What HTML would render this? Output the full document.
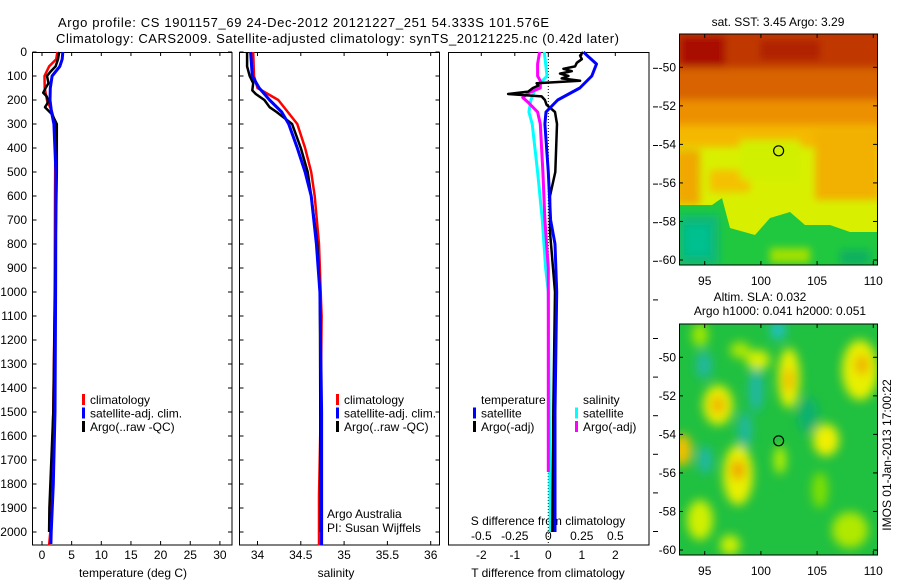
<!DOCTYPE html>
<html><head><meta charset="utf-8">
<style>
html,body{margin:0;padding:0;background:#fff;}
svg{display:block;font-family:"Liberation Sans",sans-serif;}
text{font-size:12px;fill:#000;}
</style></head>
<body>
<svg id="chart" width="900" height="580" viewBox="0 0 900 580" xmlns="http://www.w3.org/2000/svg">
<defs>
<filter id="blur4" x="-20%" y="-20%" width="140%" height="140%"><feGaussianBlur stdDeviation="4"/></filter>
<filter id="blur6" x="-30%" y="-30%" width="160%" height="160%"><feGaussianBlur stdDeviation="5"/></filter>
<clipPath id="clipTop"><rect x="679" y="34" width="198" height="231"/></clipPath>
<clipPath id="clipBot"><rect x="679" y="324" width="198" height="231"/></clipPath>
</defs>
<text x="58" y="27" textLength="491" style="font-size:13px">Argo profile: CS 1901157_69 24-Dec-2012 20121227_251 54.333S 101.576E</text>
<text x="56" y="43" textLength="563" style="font-size:13px">Climatology: CARS2009. Satellite-adjusted climatology: synTS_20121225.nc (0.42d later)</text>

<!-- SST map -->
<g>
<g clip-path="url(#clipTop)">
<rect x="679" y="34" width="198" height="231" fill="#d8f000"/>
<g filter="url(#blur4)">
<rect x="670" y="25" width="220" height="45" fill="#c03800"/>
<rect x="670" y="68" width="220" height="35" fill="#d86400"/>
<rect x="670" y="100" width="220" height="28" fill="#ec9000"/>
<rect x="670" y="125" width="220" height="22" fill="#f4b800"/>
<rect x="680" y="36" width="45" height="30" fill="#a81000"/>
<rect x="760" y="40" width="60" height="20" fill="#b02000"/>
<rect x="815" y="130" width="65" height="70" fill="#f2b000"/>
<rect x="675" y="150" width="25" height="55" fill="#f0a800"/>
<rect x="710" y="170" width="40" height="22" fill="#f5c000"/>
<rect x="740" y="140" width="60" height="40" fill="#d0f000"/>
</g>
<polygon points="679,205 712,205 722,198 730,228 755,235 770,218 790,212 805,225 830,225 850,232 877,232 877,265 679,265" fill="#20c840"/>
<g filter="url(#blur4)">
<rect x="679" y="215" width="40" height="50" fill="#10b878"/>
<rect x="685" y="225" width="25" height="30" fill="#00c090"/>
<rect x="770" y="248" width="40" height="15" fill="#a0e000"/>
<rect x="840" y="250" width="30" height="15" fill="#10b060"/>
</g>
</g>
<rect x="679.5" y="34" width="198" height="231" fill="none" stroke="#000" stroke-width="1"/>
</g>
<!-- SLA map -->
<g>
<g clip-path="url(#clipBot)">
<rect x="679" y="324" width="198" height="231" fill="#20c040"/>
<g filter="url(#blur6)">
<ellipse cx="704" cy="365" rx="8" ry="14" fill="#20b8a0"/>
<ellipse cx="778" cy="330" rx="8" ry="10" fill="#20c0c0"/>
<ellipse cx="756" cy="390" rx="7" ry="22" fill="#20b8a8"/>
<ellipse cx="745" cy="430" rx="7" ry="18" fill="#20b8a0"/>
<ellipse cx="705" cy="460" rx="7" ry="14" fill="#20b8a8"/>
<ellipse cx="808" cy="415" rx="10" ry="18" fill="#10b070"/>
<ellipse cx="718" cy="405" rx="15" ry="20" fill="#e8f000"/>
<ellipse cx="718" cy="405" rx="7" ry="9" fill="#f0b000"/>
<ellipse cx="738" cy="475" rx="15" ry="30" fill="#e8f000"/>
<ellipse cx="738" cy="470" rx="7" ry="10" fill="#f0a000"/>
<ellipse cx="789" cy="378" rx="11" ry="30" fill="#e8f000"/>
<ellipse cx="789" cy="380" rx="5" ry="12" fill="#f0b800"/>
<ellipse cx="860" cy="370" rx="18" ry="30" fill="#e8f000"/>
<ellipse cx="862" cy="365" rx="7" ry="10" fill="#f0b000"/>
<ellipse cx="826" cy="440" rx="13" ry="16" fill="#f0f000"/>
<ellipse cx="682" cy="450" rx="10" ry="16" fill="#f0c000"/>
<ellipse cx="758" cy="360" rx="12" ry="10" fill="#d8f000"/>
<ellipse cx="700" cy="520" rx="13" ry="20" fill="#d0f000"/>
<ellipse cx="780" cy="460" rx="6" ry="14" fill="#b8f000"/>
<ellipse cx="850" cy="530" rx="18" ry="18" fill="#b0e800"/>
<ellipse cx="730" cy="545" rx="10" ry="10" fill="#d0f000"/>
<ellipse cx="820" cy="490" rx="8" ry="18" fill="#80e000"/>
<ellipse cx="700" cy="335" rx="8" ry="12" fill="#a0e800"/>
<ellipse cx="740" cy="350" rx="10" ry="8" fill="#b0e800"/>
</g>
</g>
<rect x="679.5" y="324" width="198" height="231" fill="none" stroke="#000" stroke-width="1"/>
</g>
<text x="778" y="26" text-anchor="middle">sat. SST: 3.45 Argo: 3.29</text>
<text x="760" y="301" text-anchor="middle">Altim. SLA: 0.032</text>
<text x="780" y="315" text-anchor="middle">Argo h1000: 0.041 h2000: 0.051</text>
<text transform="translate(891,455) rotate(-90)" text-anchor="middle">IMOS 01-Jan-2013 17:00:22</text>
<g id="axes"></g>
<g id="marks"></g>
</svg>
<script>
// ---- data ----
const depthTick = [0,100,200,300,400,500,600,700,800,900,1000,1100,1200,1300,1400,1500,1600,1700,1800,1900,2000];
const tempTicks = [0,5,10,15,20,25,30];
const salTicks = [34,34.5,35,35.5,36];
const tdiffTicks = [-2,-1,0,1,2];
const sdiffTicks = [-0.5,-0.25,0,0.25,0.5];
const sdiffLabels = ["-0.5","-0.25","0","0.25","0.5"];

const tClimD = [0,30,60,100,150,200,250,300,400,600,1000,1200,1500,1800,2000,2055];
const tClimV = [2.6,2.4,1.2,0.42,0.45,0.85,1.7,2.2,2.25,2.2,2.15,2.05,1.9,1.6,1.4,1.2];
const tSatD = [0,30,60,100,150,200,250,300,500,1000,1500,1800,2000,2050];
const tSatV = [3.5,3.4,3.0,1.7,1.4,1.35,1.6,2.0,2.35,2.3,2.2,1.9,1.55,1.5];
const tArgoD = [0,30,60,80,100,130,150,170,185,200,215,230,260,300,500,800,1000,1500,1900,2000];
const tArgoV = [2.9,2.7,2.3,1.5,0.85,1.1,0.6,0.2,0.8,1.0,0.9,0.5,1.7,2.5,2.5,2.3,2.2,1.9,1.25,1.2];

const sClimD = [0,100,150,200,250,300,400,500,600,800,1000,1100,1500,1850,2055];
const sClimV = [33.95,33.96,34.0,34.24,34.35,34.46,34.55,34.62,34.66,34.71,34.73,34.74,34.73,34.71,34.71];
const sSatD = [0,100,150,200,250,300,400,500,600,800,1000,1500,2000,2055];
const sSatV = [33.92,33.94,34.02,34.14,34.28,34.36,34.46,34.55,34.62,34.68,34.72,34.74,34.74,34.74];
const sArgoD = [0,60,100,130,160,175,200,230,250,300,400,500,600,800,1000,2000];
const sArgoV = [33.88,33.88,33.91,33.95,33.94,33.98,34.08,34.14,34.22,34.4,34.5,34.58,34.62,34.69,34.72,34.73];

const dtSatD = [0,20,50,100,150,200,250,300,500,700,800,1000,1500,2000];
const dtSatV = [1.05,1.2,1.44,1.3,0.94,0.28,-0.07,-0.1,0.0,0.07,0.2,0.25,0.2,0.2];
const dtArgoD = [0,15,30,45,60,70,80,90,100,110,120,130,140,150,165,175,185,200,220,250,300,500,600,750,1000,1500,2000];
const dtArgoV = [1.04,0.95,1.0,0.85,0.8,0.45,0.7,0.35,0.6,0.4,0.95,-0.35,-0.3,-0.46,-0.6,-1.2,-0.2,-0.1,-0.05,0.2,0.26,0.21,0.05,0.05,0.2,0.15,0.12];
const dsSatD = [0,100,150,200,250,300,500,700,900,1000,2000];
const dsSatV = [-0.03,-0.01,-0.095,-0.13,-0.145,-0.12,-0.08,-0.045,-0.02,0.0,0.015];
const dsArgoD = [0,50,100,120,150,170,190,210,250,300,500,700,900,1750];
const dsArgoV = [-0.065,-0.08,-0.08,-0.06,-0.06,-0.145,-0.19,-0.15,-0.08,-0.06,-0.04,-0.025,0.0,0.0];

const mapLatTicks = [-50,-52,-54,-56,-58,-60];
const mapLonTicks = [95,100,105,110];
const argoLon = 101.576, argoLat = -54.333;

// ---- scales ----
const yD = d => 52 + d*0.24;
const xT = t => 42 + t*5.93;
const xS = s => 257.5 + (s-34)*86.6;
const xDT = t => 548.3 + t*33.5;
const xDS = s => 548.3 + s*134;
const topLatY = l => 67.3 + (-50-l)*19.27;
const botLatY = l => 357.3 + (-50-l)*19.27;
const lonX = l => 704.7 + (l-95)*11.24;

const NS = "http://www.w3.org/2000/svg";
const axes = document.getElementById('axes');
const marks = document.getElementById('marks');
function mk(tag, attrs, parent){const e=document.createElementNS(NS,tag);for(const k in attrs)e.setAttribute(k,attrs[k]);(parent||axes).appendChild(e);return e;}
function txt(x,y,s,anchor,parent){const e=mk('text',{x:x,y:y,'text-anchor':anchor||'middle'},parent);e.textContent=s;return e;}

const panels = [{x0:32.5,x1:232,name:'temperature'},{x0:239.5,x1:439.5,name:'salinity'},{x0:448.5,x1:649,name:'difference'}];
panels.forEach(p=>{
  const r = mk('rect',{x:p.x0,y:52.5,width:p.x1-p.x0,height:492.5,fill:'none',stroke:'#000','stroke-width':1});
  
  
  if(p.name!=='difference'){
    depthTick.forEach(d=>{
      mk('line',{x1:p.x0,x2:p.x0+4,y1:yD(d),y2:yD(d),stroke:'#000'});
      mk('line',{x1:p.x1-4,x2:p.x1,y1:yD(d),y2:yD(d),stroke:'#000'});
    });
  }
});
depthTick.forEach(d=>{
  const t = txt(27,yD(d)+4,String(d),'end');
  
  
});
tempTicks.forEach(v=>{
  mk('line',{x1:xT(v),x2:xT(v),y1:52,y2:56,stroke:'#000'});
  mk('line',{x1:xT(v),x2:xT(v),y1:541,y2:545,stroke:'#000'});
  const t = txt(xT(v),559,String(v));
  
  
});
salTicks.forEach(v=>{
  mk('line',{x1:xS(v),x2:xS(v),y1:52,y2:56,stroke:'#000'});
  mk('line',{x1:xS(v),x2:xS(v),y1:541,y2:545,stroke:'#000'});
  const t = txt(xS(v),559,String(v));
  
  
});
tdiffTicks.forEach(v=>{
  mk('line',{x1:xDT(v),x2:xDT(v),y1:52,y2:56,stroke:'#000'});
  const t = txt(xDT(v),559,String(v));
  
  
});
sdiffTicks.forEach((v,i)=>{
  const t = txt(xDS(v),540,sdiffLabels[i]);
  
  
});
for(let k=0;k<13;k++){const y=68.3+38.6*k; if(y<560) mk('line',{x1:653,x2:658,y1:y,y2:y,stroke:'#000'});}
const zl = mk('line',{x1:xDT(0),x2:xDT(0),y1:53,y2:545,stroke:'#000','stroke-dasharray':'1,2'});


[[133,577,'temperature (deg C)','x-axis-title-temperature'],[336,577,'salinity','x-axis-title-salinity'],[548,577,'T difference from climatology','x-axis-title-t-diff'],[548,525,'S difference from climatology','s-diff-axis-title']].forEach(a=>{
  const t = txt(a[0],a[1],a[2]);
  
  
});
const aa = txt(327,518,'Argo Australia','start');


const pi = txt(327,532,'PI: Susan Wijffels','start');



function legend(x,y,color,label){
  const g = mk('g',{});
  
  
  mk('rect',{x:x,y:y-6,width:3,height:11,fill:color},g);
  txt(x+8,y+4,label,'start',g);
}
[[82,'red','climatology'],[82,'blue','satellite-adj. clim.'],[82,'#000','Argo(..raw -QC)']].forEach((l,i)=>legend(l[0],400+i*13.5,l[1],l[2]));
[[336,'red','climatology'],[336,'blue','satellite-adj. clim.'],[336,'#000','Argo(..raw -QC)']].forEach((l,i)=>legend(l[0],400+i*13.5,l[1],l[2]));
txt(481,404,'temperature','start');
txt(583,404,'salinity','start');
legend(473,413.5,'blue','satellite');
legend(473,427,'#000','Argo(-adj)');
legend(575,413.5,'cyan','satellite');
legend(575,427,'magenta','Argo(-adj)');

function series(D,V,xf,color,w,name){
  const pts = D.map((d,i)=>xf(V[i]).toFixed(1)+','+yD(d).toFixed(1)).join(' ');
  const pl = mk('polyline',{points:pts,fill:'none',stroke:color,'stroke-width':w,'stroke-linejoin':'round'},marks);
  
  
}
series(tClimD,tClimV,xT,'red',2.5,'temperature-climatology-line');
series(tArgoD,tArgoV,xT,'#000',2.5,'temperature-argo-line');
series(tSatD,tSatV,xT,'blue',3,'temperature-satellite-line');
series(sClimD,sClimV,xS,'red',2.5,'salinity-climatology-line');
series(sArgoD,sArgoV,xS,'#000',2.5,'salinity-argo-line');
series(sSatD,sSatV,xS,'blue',3,'salinity-satellite-line');
series(dsSatD,dsSatV,xDS,'cyan',3,'s-diff-satellite-line');
series(dsArgoD,dsArgoV,xDS,'magenta',3,'s-diff-argo-line');
series(dtArgoD,dtArgoV,xDT,'#000',2.5,'t-diff-argo-line');
series(dtSatD,dtSatV,xDT,'blue',3,'t-diff-satellite-line');

[[topLatY,34,265,'sst'],[botLatY,324,555,'sla']].forEach(m=>{
  const f=m[0];
  mapLatTicks.forEach(l=>{
    mk('line',{x1:679,x2:683,y1:f(l),y2:f(l),stroke:'#000'});
    mk('line',{x1:873,x2:877,y1:f(l),y2:f(l),stroke:'#000'});
    const t = txt(676,f(l)+4,String(l),'end');
    
    
  });
  mapLonTicks.forEach(l=>{
    mk('line',{x1:lonX(l),x2:lonX(l),y1:m[1],y2:m[1]+4,stroke:'#000'});
    mk('line',{x1:lonX(l),x2:lonX(l),y1:m[2]-4,y2:m[2],stroke:'#000'});
    const t = txt(lonX(l),m[2]+20,String(l));
    
    
  });
  const c = mk('circle',{cx:lonX(argoLon),cy:f(argoLat),r:5,fill:'none',stroke:'#000','stroke-width':1.2},marks);
  
  
});
</script>
</body></html>
